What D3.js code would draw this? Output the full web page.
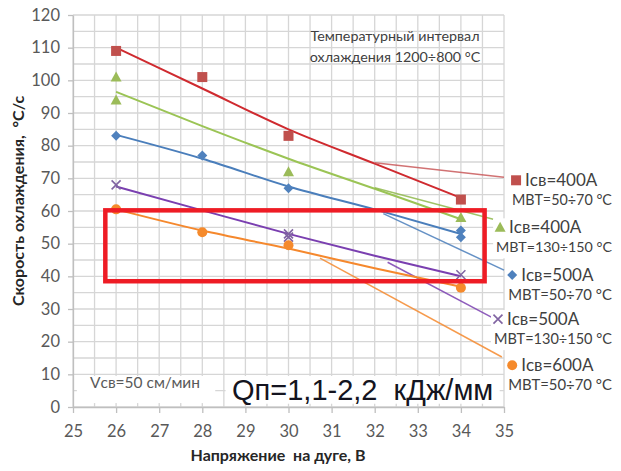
<!DOCTYPE html>
<html>
<head>
<meta charset="utf-8">
<script src="https://cdn.jsdelivr.net/npm/d3@7"></script>
<style>
    body { margin: 0; background: #fff; }
    svg { display: block; }
    text { white-space: pre; }
</style>
</head>
<body>
<div id="chart"></div>
<script>
const redX = [26, 28, 30, 34];
const redY = [109, 101, 83, 63.5];
const greenX = [26, 26, 30, 34];
const greenY = [101, 94, 72, 58];
const blueX = [26, 28, 30, 34, 34];
const blueY = [83, 77, 67, 54, 52];
const purpleX = [26, 30, 30, 34];
const purpleY = [68, 53, 52, 40.5];
const orangeX = [26, 28, 30, 34];
const orangeY = [60.5, 53.5, 49.5, 36.5];

// trend lines, read at these voltages
const trendX = [26, 28, 30, 32, 34];
const redTrend = [110, 97.5, 85, 74.5, 64];
const greenTrend = [96.5, 86, 76, 66.8, 57.5];
const blueTrend = [83.3, 76, 67.5, 60.5, 53];
const purpleTrend = [67.5, 60.2, 53, 46.3, 40];
const orangeTrend = [60.5, 54, 48.5, 42.5, 36.8];

// label leader lines [x0, y0, x1, y1]
const redLeader = [32, 74.8, 35, 70.3];
const greenLeader = [32, 67.1, 34.75, 57.5];
const blueLeader = [32.2, 59.2, 35, 41.9];
const purpleLeader = [32.3, 44.3, 34.75, 27.2];
const orangeLeader = [30.73, 45.6, 34.95, 15.3];

const labelLine1 = ["Iсв=400А", "Iсв=400А", "Iсв=500А", "Iсв=500А", "Iсв=600А"];
const labelLine2 = ["МВТ=50÷70 °С", "МВТ=130÷150 °С", "МВТ=50÷70 °С", "МВТ=130÷150 °С", "МВТ=50÷70 °С"];

const xTicks = [25, 26, 27, 28, 29, 30, 31, 32, 33, 34, 35];
const yTicks = [0, 10, 20, 30, 40, 50, 60, 70, 80, 90, 100, 110, 120];

const width = 621;
const height = 471;

const x = d3.scaleLinear().domain([25, 35]).range([73, 504]);
const y = d3.scaleLinear().domain([0, 120]).range([407, 15]);

const series = [
    { xs: redX, ys: redY, trend: redTrend, leader: redLeader, shape: "square",
      marker: "#c0504d", line: "#cf2a2f", lead: "#c9595a", lx: 35.28, ly: 69.4 },
    { xs: greenX, ys: greenY, trend: greenTrend, leader: greenLeader, shape: "triangle",
      marker: "#9bbb59", line: "#9bc455", lead: "#8fb84c", lx: 34.91, ly: 55.0 },
    { xs: blueX, ys: blueY, trend: blueTrend, leader: blueLeader, shape: "diamond",
      marker: "#4f81bd", line: "#4a7ebb", lead: "#4a7ebb", lx: 35.19, ly: 40.4 },
    { xs: purpleX, ys: purpleY, trend: purpleTrend, leader: purpleLeader, shape: "cross",
      marker: "#8064a2", line: "#7a3fb0", lead: "#7a3fb0", lx: 34.86, ly: 26.9 },
    { xs: orangeX, ys: orangeY, trend: orangeTrend, leader: orangeLeader, shape: "circle",
      marker: "#f58a2c", line: "#f5882d", lead: "#f5882d", lx: 35.19, ly: 12.8 }
];

const svg = d3.select("#chart").append("svg")
    .attr("width", width)
    .attr("height", height);

svg.append("rect").attr("width", width).attr("height", height).attr("fill", "#fff");

// grid
const grid = svg.append("g").attr("stroke", "#d6d6d6").attr("stroke-width", 1.3);
d3.range(0, 121, 5).forEach(v => {
    grid.append("line")
        .attr("x1", x(25)).attr("x2", x(35))
        .attr("y1", y(v)).attr("y2", y(v));
});
d3.range(25, 35.01, 0.5).forEach(v => {
    grid.append("line")
        .attr("x1", x(v)).attr("x2", x(v))
        .attr("y1", y(0)).attr("y2", y(120));
});

// axes
const xAxis = svg.append("g")
    .attr("transform", `translate(0,${y(0)})`)
    .call(d3.axisBottom(x).tickValues(xTicks).tickSize(6).tickSizeOuter(0).tickPadding(12));
const yAxis = svg.append("g")
    .attr("transform", `translate(${x(25)},0)`)
    .call(d3.axisLeft(y).tickValues(yTicks).tickSize(5).tickSizeOuter(0).tickPadding(8));
[xAxis, yAxis].forEach(a => {
    a.select(".domain").attr("stroke", "#bfbfbf").attr("stroke-width", 1.3);
    a.selectAll(".tick line").attr("stroke", "#bfbfbf").attr("stroke-width", 1.3);
    a.selectAll(".tick text")
        .attr("fill", "#595959")
        .attr("font-family", "Lato, sans-serif")
        .attr("font-size", "16.5px");
});

// white boxes under the notes at the bottom
svg.append("rect")
    .attr("x", x(25.09)).attr("y", y(9.5))
    .attr("width", x(28.3) - x(25.09)).attr("height", y(1.2) - y(9.5))
    .attr("fill", "#fff");
svg.append("rect")
    .attr("x", x(28.54)).attr("y", y(9.5))
    .attr("width", x(34.9) - x(28.54)).attr("height", y(1.0) - y(9.5))
    .attr("fill", "#fff");

svg.append("text")
    .attr("x", 90).attr("y", 388)
    .attr("font-family", "Lato, sans-serif")
    .attr("font-size", "15.5px")
    .attr("fill", "#595959")
    .text("Vсв=50 см/мин");

svg.append("text")
    .attr("x", 232).attr("y", 400)
    .attr("font-family", "'Liberation Sans', Arial, sans-serif")
    .attr("font-size", "29px")
    .attr("fill", "#141420")
    .text("Qп=1,1-2,2  кДж/мм");

svg.append("g")
    .attr("font-family", "Lato, sans-serif")
    .attr("font-size", "14.3px")
    .attr("fill", "#404040")
    .attr("text-anchor", "middle")
    .call(g => g.append("text").attr("x", 395).attr("y", 41).text("Температурный интервал"))
    .call(g => g.append("text").attr("x", 395).attr("y", 62).text("охлаждения 1200÷800 °С"));

// trend lines
const trendLine = d3.line()
    .x((d, i) => x(trendX[i]))
    .y(d => y(d))
    .curve(d3.curveMonotoneX);

series.forEach(s => {
    svg.append("path")
        .attr("d", trendLine(s.trend))
        .attr("fill", "none")
        .attr("stroke", s.line)
        .attr("stroke-width", 2);
    svg.append("line")
        .attr("x1", x(s.leader[0])).attr("y1", y(s.leader[1]))
        .attr("x2", x(s.leader[2])).attr("y2", y(s.leader[3]))
        .attr("stroke", s.lead)
        .attr("stroke-width", 1.5)
        .attr("stroke-opacity", 0.85);
});

function drawMarker(g, shape, color, cx, cy) {
    if (shape === "square") {
        g.append("rect").attr("x", cx - 5).attr("y", cy - 5)
            .attr("width", 10).attr("height", 10).attr("fill", color);
    } else if (shape === "triangle") {
        g.append("path").attr("d", `M${cx},${cy - 5.5}L${cx + 5.5},${cy + 4.5}L${cx - 5.5},${cy + 4.5}Z`)
            .attr("fill", color);
    } else if (shape === "diamond") {
        g.append("path").attr("d", `M${cx},${cy - 5}L${cx + 5},${cy}L${cx},${cy + 5}L${cx - 5},${cy}Z`)
            .attr("fill", color);
    } else if (shape === "cross") {
        g.append("path").attr("d", `M${cx - 4.5},${cy - 4.5}L${cx + 4.5},${cy + 4.5}M${cx + 4.5},${cy - 4.5}L${cx - 4.5},${cy + 4.5}`)
            .attr("stroke", color).attr("stroke-width", 1.6).attr("fill", "none");
    } else {
        g.append("circle").attr("cx", cx).attr("cy", cy).attr("r", 5).attr("fill", color);
    }
}

const markers = svg.append("g");
series.forEach(s => {
    s.xs.forEach((v, i) => drawMarker(markers, s.shape, s.marker, x(v), y(s.ys[i])));
});

// highlighted range
svg.append("rect")
    .attr("x", x(25.75)).attr("y", y(60.2))
    .attr("width", x(34.55) - x(25.75)).attr("height", y(38.5) - y(60.2))
    .attr("fill", "none")
    .attr("stroke", "#ee1c25")
    .attr("stroke-width", 4.5);

// series labels at the right
const labels = svg.append("g")
    .attr("font-family", "Lato, sans-serif")
    .attr("fill", "#404040");
series.forEach((s, i) => {
    const mx = x(s.lx);
    const my = y(s.ly);
    labels.append("rect").attr("x", mx - 7).attr("y", my - 9)
        .attr("width", width - mx + 7).attr("height", 40).attr("fill", "#fff");
    drawMarker(labels, s.shape, s.marker, mx, my);
    labels.append("text").attr("x", mx + 9).attr("y", my + 6)
        .attr("font-size", "17px").text(labelLine1[i]);
    const t2 = labels.append("text").attr("x", mx - 4).attr("y", my + 25)
        .attr("font-size", "17px").text(labelLine2[i]);
    // shrink the second line so it ends inside the picture
    const room = 612 - (mx - 4);
    const len = t2.node().getComputedTextLength();
    if (len > room) t2.attr("font-size", (17 * room / len).toFixed(2) + "px");
});

// axis titles
svg.append("text")
    .attr("x", 278).attr("y", 461)
    .attr("text-anchor", "middle")
    .attr("font-family", "Lato, sans-serif")
    .attr("font-weight", "bold")
    .attr("font-size", "16px")
    .attr("fill", "#262626")
    .text("Напряжение  на дуге, В");

svg.append("text")
    .attr("transform", "translate(24,201) rotate(-90)")
    .attr("text-anchor", "middle")
    .attr("font-family", "Lato, sans-serif")
    .attr("font-weight", "bold")
    .attr("font-size", "16px")
    .attr("fill", "#262626")
    .text("Скорость охлаждения,  °С/с");
</script>
</body>
</html>
